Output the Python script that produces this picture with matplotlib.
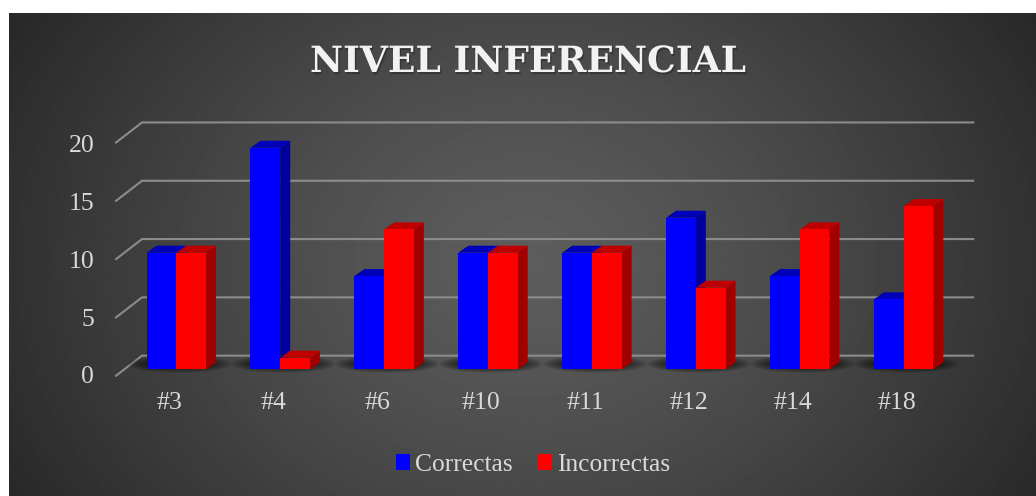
import numpy as np
import matplotlib
matplotlib.use('Agg')
import matplotlib.pyplot as plt
import matplotlib.patheffects as pe
from matplotlib.patches import Patch, Polygon, Ellipse

categories = ['#3', '#4', '#6', '#10', '#11', '#12', '#14', '#18']
correctas = [10, 19, 8, 10, 10, 13, 8, 6]
incorrectas = [10, 1, 12, 10, 10, 7, 12, 14]
y_ticks = [0, 5, 10, 15, 20]

W, H = 1036, 496
PX_X = 103.9   # pixels per category
PX_Y = 11.66   # pixels per unit
X0, Y0 = 176.3, 369.3  # pixel of category 0, value 0

bar_w = 0.286
dx_bar, dy_bar = 10 / PX_X, 7 / PX_Y
TXT = '#d9d9d9'
SERIF = ['Liberation Serif', 'DejaVu Serif']

fig = plt.figure(figsize=(W / 100, H / 100), dpi=100, facecolor='white')
ax = fig.add_axes([0, 0, 1, 1])
ax.axis('off')

# dark panel with radial gradient, white margin on left and top
yy, xx = np.mgrid[0:H, 0:W]
r = np.hypot((xx - 522) / 640, (yy - 254) / 520)
grey = np.clip(0.365 - 0.225 * r ** 1.3, 0.14, 1)
ax.imshow(grey, cmap='gray', vmin=0, vmax=1, aspect='auto', zorder=0,
          extent=(9 / W, 1, 0, 1 - 13 / H), transform=ax.transAxes, interpolation='bilinear')
ax.set_xlim(-X0 / PX_X, (W - X0) / PX_X)
ax.set_ylim((Y0 - H) / PX_Y, Y0 / PX_Y)

# gridlines with the side wall stub
for v in y_ticks:
    ax.plot([-0.58, -0.33, 7.67], [v - 0.55, v + 1.17, v + 1.17], color='#8c8c8c', lw=1.5, zorder=1,
            solid_joinstyle='miter')

# soft shadow under every group
for i in range(len(categories)):
    for k in range(10):
        ax.add_patch(Ellipse((i + 0.03, 0.45), 1.0 - k * 0.05, 1.5 - k * 0.12, color='black', alpha=0.08,
                             lw=0, zorder=2))


def bar3d(x, v, front, top, side, z):
    l, r_ = x, x + bar_w
    ax.add_patch(Polygon([(r_, 0), (r_ + dx_bar, dy_bar), (r_ + dx_bar, v + dy_bar), (r_, v)],
                         facecolor=side, lw=0, zorder=z))
    ax.add_patch(Polygon([(l, v), (l + dx_bar, v + dy_bar), (r_ + dx_bar, v + dy_bar), (r_, v)],
                         facecolor=top, lw=0, zorder=z))
    ax.add_patch(Polygon([(l, 0), (r_, 0), (r_, v), (l, v)], facecolor=front, lw=0, zorder=z + 0.1))


for i in range(len(categories)):
    bar3d(i - bar_w, correctas[i], '#0000ff', '#0000b8', '#00009c', 3)
    bar3d(i, incorrectas[i], '#ff0000', '#bf0000', '#a00000', 4)

for v in y_ticks:
    ax.text(-0.79, v * 0.99 - 0.68, str(v), color=TXT, fontsize=18.5, family=SERIF, ha='right', va='center', zorder=5)
for i, c in enumerate(categories):
    ax.text(i - 0.065, -2.93, c, color=TXT, fontsize=18.5, family=SERIF, ha='center', va='center', zorder=5)

title = ax.text(528.5 / W, 1 - 62 / H, 'NIVEL INFERENCIAL', transform=ax.transAxes, color='#f2f2f2', fontsize=26,
                fontweight='bold', family=['DejaVu Serif'], ha='center', va='center', zorder=5)
title.set_path_effects([pe.withSimplePatchShadow(offset=(1, -1.5), shadow_rgbFace='black', alpha=0.25)])

handles = [Patch(facecolor='#0000ff', label='Correctas'), Patch(facecolor='#ff0000', label='Incorrectas')]
leg = ax.legend(handles=handles, ncol=2, frameon=False, loc='center', bbox_to_anchor=(533 / W, 1 - 465 / H),
                prop={'family': SERIF, 'size': 18.4}, labelcolor=TXT, handlelength=0.55, handleheight=0.55,
                handletextpad=0.2, columnspacing=1.0, borderpad=0)
leg.set_zorder(5)

fig.savefig('out.png', dpi=100, facecolor='white')
